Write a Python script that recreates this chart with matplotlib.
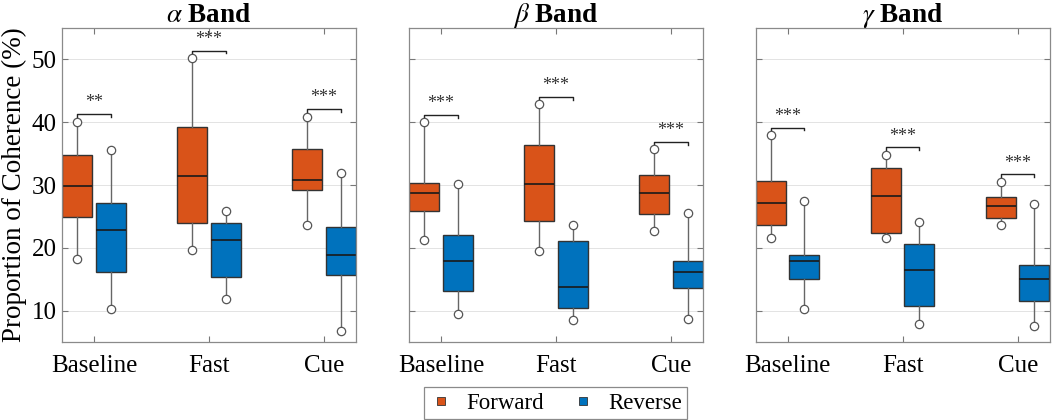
import numpy as np
import matplotlib
matplotlib.use('Agg')
import matplotlib.pyplot as plt
from matplotlib.lines import Line2D

plt.rcParams['font.family'] = ['Liberation Serif', 'DejaVu Serif']
plt.rcParams['mathtext.fontset'] = 'stix'

# data: [whisker low, Q1, median, Q3, whisker high]
conditions = ['Baseline', 'Fast', 'Cue']
bands = [r'$\alpha$ Band', r'$\beta$ Band', r'$\gamma$ Band']

alpha_fwd = [[18.2, 24.9, 29.9, 34.8, 40.0],
             [19.6, 23.9, 31.5, 39.2, 50.2],
             [23.7, 29.2, 30.8, 35.7, 40.9]]
alpha_rev = [[10.3, 16.2, 22.9, 27.1, 35.5],
             [11.9, 15.3, 21.2, 24.0, 25.8],
             [6.8, 15.7, 18.9, 23.3, 31.9]]
beta_fwd = [[21.3, 25.8, 28.7, 30.3, 40.0],
            [19.5, 24.2, 30.2, 36.3, 42.9],
            [22.7, 25.4, 28.7, 31.6, 35.7]]
beta_rev = [[9.5, 13.1, 17.9, 22.1, 30.1],
            [8.5, 10.4, 13.8, 21.1, 23.7],
            [8.6, 13.6, 16.2, 17.9, 25.6]]
gamma_fwd = [[21.6, 23.6, 27.2, 30.6, 37.9],
             [21.6, 22.4, 28.3, 32.7, 34.8],
             [23.7, 24.8, 26.6, 28.1, 30.5]]
gamma_rev = [[10.2, 15.0, 17.9, 18.9, 27.4],
             [7.9, 10.7, 16.5, 20.6, 24.1],
             [7.6, 11.5, 15.1, 17.2, 27.0]]

# significance brackets (height) and labels
alpha_sig = [41.3, 51.4, 42.1]
beta_sig = [41.1, 44.0, 36.8]
gamma_sig = [39.1, 36.0, 31.7]
alpha_stars = ['**', '***', '***']
beta_stars = ['***', '***', '***']
gamma_stars = ['***', '***', '***']

fwd_all = [alpha_fwd, beta_fwd, gamma_fwd]
rev_all = [alpha_rev, beta_rev, gamma_rev]
sig_all = [alpha_sig, beta_sig, gamma_sig]
stars_all = [alpha_stars, beta_stars, gamma_stars]

c_fwd = '#D95319'
c_rev = '#0072BD'
off = 0.145
bw = 0.26


def stats(q, label):
    return dict(whislo=q[0], q1=q[1], med=q[2], q3=q[3], whishi=q[4], fliers=[], label=label)


fig = plt.figure(figsize=(10.52, 4.2), dpi=100)
lefts = [62 / 1052, 409 / 1052, 755.7 / 1052]
axes = [fig.add_axes([l, 1 - 342 / 420, 294 / 1052, 314 / 420]) for l in lefts]

pos = np.arange(1, 4)
for i, ax in enumerate(axes):
    for data, sh, col in [(fwd_all[i], -off, c_fwd), (rev_all[i], off, c_rev)]:
        st = [stats(q, c) for q, c in zip(data, conditions)]
        ax.bxp(st, positions=pos + sh, widths=bw, patch_artist=True, showcaps=False,
               boxprops=dict(facecolor=col, edgecolor='#333333', linewidth=1.0),
               medianprops=dict(color='#1a1a1a', linewidth=1.2),
               whiskerprops=dict(color='#666666', linewidth=1.0), manage_ticks=False)
        lo = [q[0] for q in data]
        hi = [q[4] for q in data]
        ax.plot(np.r_[pos + sh, pos + sh], lo + hi, 'o', ls='none', mfc='white',
                mec='#555555', ms=6, mew=0.9, zorder=4)
    for x, h, s in zip(pos, sig_all[i], stars_all[i]):
        ax.plot([x - off, x - off, x + off, x + off], [h - 0.4, h, h, h - 0.4],
                color='#222222', lw=1.0)
        ax.text(x, h + 1.8, s, ha='center', va='center', fontsize=13, color='#333333')

    ax.set_xlim(0.7217, 3.278)
    ax.set_ylim(5, 55)
    ax.set_xticks(pos)
    ax.set_xticklabels(conditions, fontsize=18)
    ax.set_yticks([10, 20, 30, 40, 50])
    ax.yaxis.grid(True, color='#e3e3e3', lw=0.7)
    ax.set_axisbelow(True)
    ax.tick_params(direction='in', top=True, right=True, length=4, color='#777777',
                   labelsize=18)
    ax.tick_params(axis='x', pad=9)
    ax.tick_params(axis='y', pad=4)
    for sp in ax.spines.values():
        sp.set_color('#8a8a8a')
        sp.set_linewidth(0.9)
    if i > 0:
        ax.set_yticklabels([])
    ax.set_title(bands[i], fontsize=19.5, fontweight='bold', pad=4)

axes[0].set_ylabel('Proportion of Coherence (%)', fontsize=19.5, labelpad=3)

handles = [Line2D([], [], ls='none', marker='s', ms=6, mfc=c_fwd, mec='#333333', mew=0.6),
           Line2D([], [], ls='none', marker='s', ms=6, mfc=c_rev, mec='#333333', mew=0.6)]
leg = fig.legend(handles, ['Forward', 'Reverse'], loc='center', ncol=2,
                 bbox_to_anchor=(555.5 / 1052, 1 - 403 / 420), fontsize=16.5,
                 fancybox=False, framealpha=1, edgecolor='#8a8a8a',
                 handlelength=1.0, handletextpad=0.6, columnspacing=1.2, borderpad=0.25)
leg.get_frame().set_linewidth(0.9)

fig.savefig('out.png', dpi=100)
